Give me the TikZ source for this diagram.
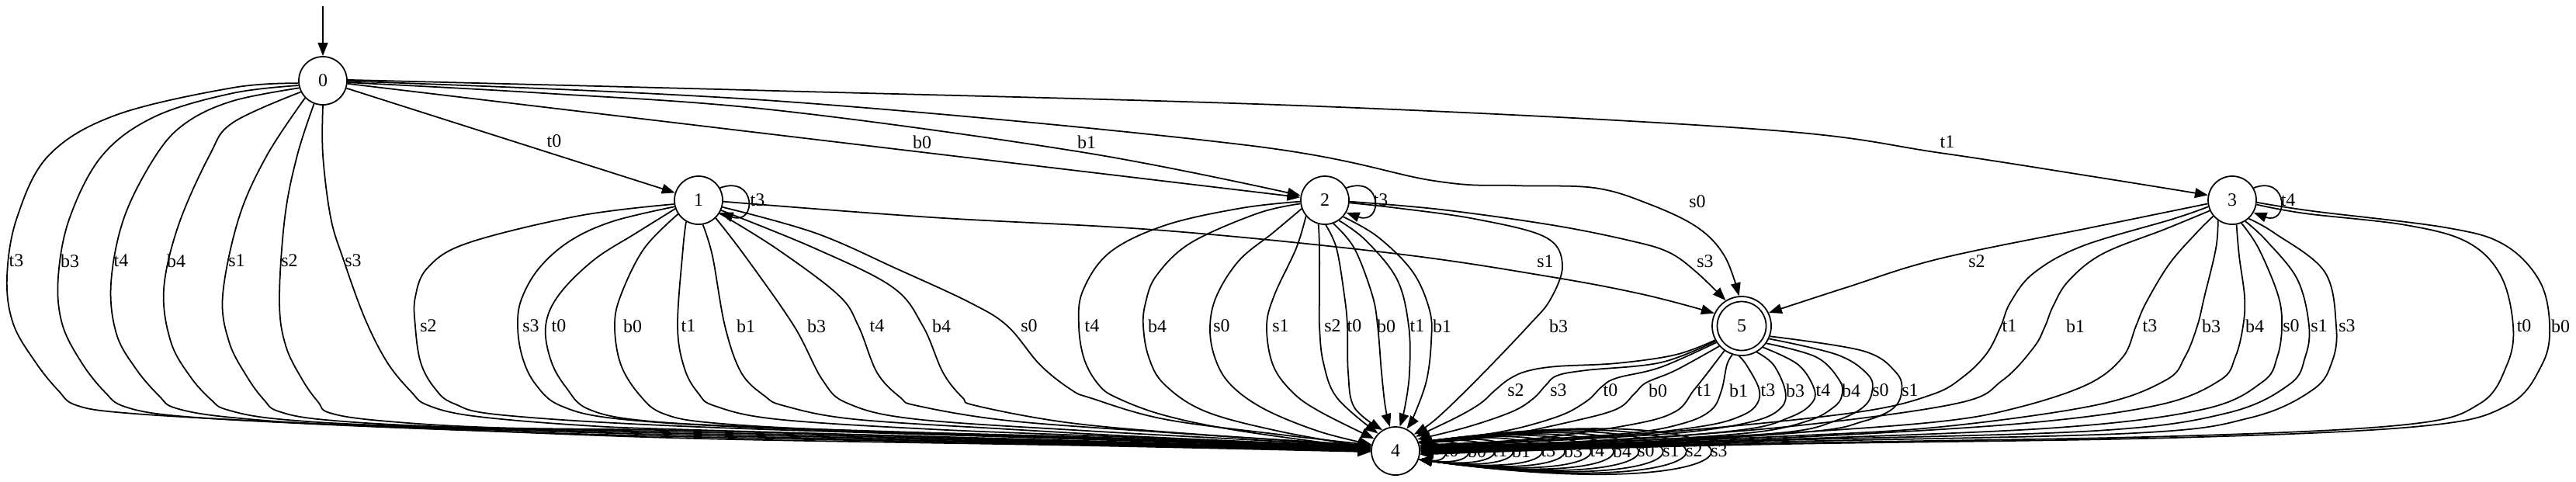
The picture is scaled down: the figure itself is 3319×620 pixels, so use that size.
\documentclass[tikz,border=0pt]{standalone}
\usepackage{fontspec}
\setmainfont{Liberation Serif}
\usetikzlibrary{arrows.meta}
\newcommand\lbf{\fontsize{6.8pt}{8pt}\selectfont}
\newcommand\lb[3]{\node[lbl] (#1) at (#2) {#3};}
\begin{document}
\begin{tikzpicture}[x=0.01cm,y=-0.01cm,
  st/.style={circle, draw, line width=0.5pt, minimum size=0.62cm, inner sep=0pt, font=\lbf},
  acc/.style={st, minimum size=0.76cm, path picture={\draw[line width=0.5pt] (path picture bounding box.center) circle[radius=0.315cm];}},
  e/.style={draw, line width=0.5pt, -{Triangle[length=4.8pt,width=3.6pt]}},
  lbl/.style={inner sep=0pt, font=\lbf},
  sm/.style={smooth, tension=0.6}]
\useasboundingbox (0,0) rectangle (3319,620);
% nodes
\node[st] (n0) at (416,104) {0};
\node[st] (n1) at (900,258) {1};
\node[st] (n2) at (1707,258) {2};
\node[st] (n3) at (2876,258) {3};
\node[acc] (n5) at (2244,420) {5};
\node[st] (n4) at (1798,581) {4};
\coordinate (i0) at (416,8);
\draw[e] (i0) -- (n0);
% ---- from 0
\draw[e] (n0) -- (n1); \lb{a1}{714,182}{t0}
\draw[e] (n0) -- (n2); \lb{a2}{1188,183}{b0}
\draw[e] plot[sm] coordinates {(n0.-4) (700,120) (1000,142) (1400,197) (n2.169)}; \lb{a3}{1400,183}{b1}
\draw[e] plot[sm] coordinates {(n0.-1) (1000,130) (1606,187) (1848,233) (1950,239) (2054,242) (2125,263) (2187,293) (2222,330) (n5.95)}; \lb{a4}{2187,260}{s0}
\draw[e] plot[sm] coordinates {(n0.2) (1000,117) (1700,137) (2272,167) (2500,197) (2700,228) (n3.168)}; \lb{a5}{2509,183}{t1}
\draw[e] plot[sm] coordinates {(n0.186) (300,113) (150,148) (63,200) (22,280) (9,357) (17,417) (46,467) (75,503) (98,522) (161,532) (344,543) (574,553) (900,565) (1400,574) (n4.182)}; \lb{a6}{21,336}{t3}
\draw[e] plot[sm] coordinates {(n0.191) (300,120) (200,150) (132,200) (90,280) (75,357) (80,417) (105,467) (135,505) (161,524) (230,536) (400,546) (620,555) (900,563) (1400,573) (n4.181)}; \lb{a7}{90,336}{b3}
\draw[e] plot[sm] coordinates {(n0.197) (300,130) (240,158) (201,200) (160,280) (143,365) (150,430) (175,475) (205,510) (227,526) (300,538) (460,548) (900,561) (1400,572) (n4.180)}; \lb{a8}{156,336}{t4}
\draw[e] plot[sm] coordinates {(n0.207) (300,158) (270,200) (230,290) (211,373) (220,440) (245,485) (272,515) (293,528) (360,540) (520,549) (900,559) (1400,571) (n4.179)}; \lb{a9}{227,336}{b4}
\draw[e] plot[sm] coordinates {(n0.224) (344,200) (308,280) (287,380) (295,440) (318,485) (340,515) (359,530) (420,541) (580,550) (900,557) (1400,570) (n4.178)}; \lb{a10}{305,336}{s1}
\draw[e] plot[sm] coordinates {(n0.249) (383,200) (367,280) (360,387) (368,445) (390,490) (410,518) (425,532) (490,542) (640,551) (900,555) (1400,569) (n4.177)}; \lb{a11}{373,336}{s2}
\draw[e] plot[sm] coordinates {(n0.270) (416,200) (426,280) (442,333) (470,410) (499,467) (530,505) (551,522) (610,536) (750,548) (900,554) (1400,568) (n4.176)}; \lb{a12}{455,336}{s3}
% ---- from 1
\draw[e] (n1.30) .. controls (975,225) and (975,291) .. (n1.-30); \lb{b1}{976,258}{t3}
\draw[e] plot[sm] coordinates {(n1.-3) (1200,280) (1500,297) (1800,327) (2000,357) (2120,380) (n5.155)}; \lb{b2}{1991,337}{s1}
\draw[e] plot[sm] coordinates {(n1.189) (746,278) (603,313) (551,345) (535,383) (535,420) (542,467) (560,500) (585,520) (650,535) (900,550) (1400,566) (n4.175)}; \lb{b3}{552,420}{s2}
\draw[e] plot[sm] coordinates {(n1.195) (790,285) (735,310) (695,345) (672,385) (667,420) (673,460) (690,495) (723,523) (800,540) (1000,552) (1400,565) (n4.174)}; \lb{b4}{684,420}{s3}
\draw[e] plot[sm] coordinates {(n1.200) (820,300) (765,335) (720,380) (703,420) (710,465) (730,500) (758,527) (830,542) (1000,551) (1400,564) (n4.173)}; \lb{b5}{720,420}{t0}
\draw[e] plot[sm] coordinates {(n1.214) (830,320) (800,380) (792,420) (800,470) (825,510) (855,533) (920,545) (1100,555) (1400,563) (n4.172)}; \lb{b6}{815,420}{b0}
\draw[e] plot[sm] coordinates {(n1.240) (880,320) (873,420) (882,475) (900,507) (921,523) (1000,540) (1200,553) (1450,563) (n4.171)}; \lb{b7}{887,420}{t1}
\draw[e] plot[sm] coordinates {(n1.-80) (918,330) (934,420) (955,480) (985,510) (1011,523) (1100,540) (1300,553) (1500,564) (n4.170)}; \lb{b8}{961,420}{b1}
\draw[e] plot[sm] coordinates {(n1.-46) (960,330) (1023,420) (1060,490) (1093,520) (1180,540) (1400,555) (1600,566) (n4.169)}; \lb{b9}{1052,420}{b3}
\draw[e] plot[sm] coordinates {(n1.-32) (1000,320) (1080,380) (1106,420) (1130,480) (1160,512) (1183,523) (1300,542) (1500,557) (n4.168)}; \lb{b10}{1130,420}{t4}
\draw[e] plot[sm] coordinates {(n1.-24) (1050,320) (1150,370) (1189,420) (1215,480) (1240,512) (1259,523) (1380,545) (1550,560) (n4.167)}; \lb{b11}{1213,420}{b4}
\draw[e] plot[sm] coordinates {(n1.-16) (1050,300) (1157,347) (1250,390) (1298,420) (1340,470) (1380,502) (1406,513) (1500,540) (1650,560) (n4.166)}; \lb{b12}{1326,420}{s0}
% ---- from 2
\draw[e] (n2.30) .. controls (1782,225) and (1782,291) .. (n2.-30); \lb{c1}{1779,258}{t3}
\draw[e] plot[sm] coordinates {(n2.-3) (1857,270) (2000,290) (2100,310) (2150,325) (2185,350) (n5.122)}; \lb{c2}{2197,337}{s3}
\draw[e] plot[sm] coordinates {(n2.-6) (1800,268) (1900,282) (1990,305) (2013,340) (1998,385) (1969,420) (1902,490) (1850,540) (n4.42)}; \lb{c3}{2008,420}{b3}
\draw[e] plot[sm] coordinates {(n2.183) (1600,268) (1502,290) (1430,325) (1395,375) (1390,420) (1397,463) (1415,495) (1438,512) (1500,535) (1597,555) (n4.175)}; \lb{c4}{1407,420}{t4}
\draw[e] plot[sm] coordinates {(n2.188) (1620,275) (1534,313) (1490,355) (1476,390) (1473,420) (1480,460) (1500,495) (1553,530) (1650,556) (n4.172)}; \lb{c5}{1491,420}{b4}
\draw[e] plot[sm] coordinates {(n2.200) (1640,300) (1597,335) (1568,380) (1559,420) (1565,460) (1585,495) (1629,527) (1700,556) (n4.165)}; \lb{c6}{1574,420}{s0}
\draw[e] plot[sm] coordinates {(n2.220) (1670,320) (1642,380) (1632,420) (1640,470) (1665,505) (1700,530) (n4.150)}; \lb{c7}{1650,420}{s1}
\draw[e] plot[sm] coordinates {(n2.-105) (1700,320) (1700,380) (1700,420) (1705,467) (1723,513) (n4.135)}; \lb{c8}{1717,420}{s2}
\draw[e] plot[sm] coordinates {(n2.-88) (1722,320) (1732,380) (1736,420) (1737,480) (1745,525) (n4.122)}; \lb{c9}{1745,420}{t0}
\draw[e] plot[sm] coordinates {(n2.-70) (1745,320) (1768,380) (1775,420) (1780,480) (1785,525) (n4.103)}; \lb{c10}{1786,420}{b0}
\draw[e] plot[sm] coordinates {(n2.-55) (1760,310) (1800,360) (1815,420) (1816,480) (1810,525) (n4.80)}; \lb{c11}{1826,420}{t1}
\draw[e] plot[sm] coordinates {(n2.-42) (1775,305) (1820,350) (1842,400) (1844,440) (1838,490) (1822,535) (n4.63)}; \lb{c12}{1858,420}{b1}
% ---- from 3
\draw[e] (n3.30) .. controls (2949,225) and (2949,291) .. (n3.-30); \lb{d1}{2948,258}{t4}
\draw[e] plot[sm] coordinates {(n3.188) (2700,292) (2500,333) (2380,370) (n5.26)}; \lb{d2}{2547,337}{s2}
\draw[e] plot[sm] coordinates {(n3.195) (2800,282) (2683,317) (2620,352) (2590,390) (2578,420) (2560,455) (2530,485) (2490,508) (2400,530) (2200,552) (2000,567) (n4.10)}; \lb{d3}{2589,420}{t1}
\draw[e] plot[sm] coordinates {(n3.205) (2790,295) (2709,327) (2665,362) (2645,395) (2635,420) (2620,448) (2580,490) (2520,520) (2300,550) (2050,568) (n4.8)}; \lb{d4}{2674,420}{b1}
\draw[e] plot[sm] coordinates {(n3.220) (2830,300) (2795,340) (2765,390) (2752,420) (2735,460) (2690,495) (2600,525) (2500,543) (2300,558) (2050,570) (n4.6)}; \lb{d5}{2770,420}{t3}
\draw[e] plot[sm] coordinates {(n3.235) (2855,320) (2840,383) (2831,420) (2815,460) (2790,490) (2700,522) (2500,550) (2300,562) (2050,572) (n4.4)}; \lb{d6}{2849,420}{b3}
\draw[e] plot[sm] coordinates {(n3.-80) (2885,330) (2892,383) (2890,420) (2880,460) (2860,490) (2780,522) (2600,546) (2300,564) (2050,573) (n4.2)}; \lb{d7}{2905,420}{b4}
\draw[e] plot[sm] coordinates {(n3.-68) (2910,320) (2935,380) (2940,420) (2934,460) (2915,492) (2840,527) (2650,551) (2300,566) (2050,574) (n4.0)}; \lb{d8}{2952,420}{s0}
\draw[e] plot[sm] coordinates {(n3.-58) (2920,310) (2960,360) (2975,420) (2970,460) (2950,495) (2870,532) (2700,555) (2300,567) (2050,575) (n4.-2)}; \lb{d9}{2988,420}{s1}
\draw[e] plot[sm] coordinates {(n3.-48) (2930,300) (2995,350) (3010,420) (3005,465) (2980,502) (2900,538) (2750,558) (2300,569) (2050,576) (n4.-4)}; \lb{d10}{3024,420}{s3}
\draw[e] plot[sm] coordinates {(n3.-10) (2970,275) (3100,290) (3179,312) (3222,355) (3238,420) (3230,470) (3195,520) (3100,547) (2800,562) (2300,571) (2050,577) (n4.-6)}; \lb{d11}{3252,420}{t0}
\draw[e] plot[sm] coordinates {(n3.-5) (2980,272) (3150,293) (3226,315) (3272,362) (3285,420) (3275,470) (3231,522) (3120,549) (2800,564) (2300,572) (2050,578) (n4.-8)}; \lb{d12}{3299,420}{b0}
% ---- from 5
\draw[e] plot[sm] coordinates {(n5.208) (2159,457) (2083,468) (2006,472) (1968,478) (1945,488) (1926,503) (1907,520) (1876,538) (n4.35)}; \lb{f1}{1953,503}{s2}
\draw[e] plot[sm] coordinates {(n5.210) (2140,467) (2044,477) (2006,484) (1991,497) (1976,513) (1949,530) (1891,550) (n4.28)}; \lb{f2}{2008,503}{s3}
\draw[e] plot[sm] coordinates {(n5.213) (2140,473) (2083,487) (2064,498) (2044,517) (2006,537) (1930,557) (n4.22)}; \lb{f3}{2075,503}{t0}
\draw[e] plot[sm] coordinates {(n5.222) (2159,477) (2121,493) (2106,507) (2083,527) (2025,543) (1930,562) (n4.18)}; \lb{f4}{2136,503}{b0}
\draw[e] plot[sm] coordinates {(n5.235) (2198,483) (2182,503) (2159,530) (2102,547) (1968,566) (n4.14)}; \lb{f5}{2196,503}{t1}
\draw[e] plot[sm] coordinates {(n5.252) (2225,470) (2218,503) (2205,528) (2170,545) (2100,558) (1950,568) (n4.11)}; \lb{f6}{2240,503}{b1}
\draw[e] plot[sm] coordinates {(n5.-95) (2250,470) (2266,500) (2264,520) (2245,535) (2200,548) (2100,560) (1950,570) (n4.9)}; \lb{f7}{2278,503}{t3}
\draw[e] plot[sm] coordinates {(n5.-60) (2285,470) (2300,503) (2295,525) (2262,542) (2180,556) (2050,565) (1900,572) (n4.7)}; \lb{f8}{2313,503}{b3}
\draw[e] plot[sm] coordinates {(n5.-45) (2317,470) (2338,503) (2332,522) (2305,538) (2250,553) (2100,566) (1900,574) (n4.5)}; \lb{f9}{2349,503}{t4}
\draw[e] plot[sm] coordinates {(n5.-35) (2340,460) (2370,490) (2373,510) (2362,525) (2330,542) (2260,557) (2100,568) (1900,575) (n4.3)}; \lb{f10}{2385,503}{b4}
\draw[e] plot[sm] coordinates {(n5.-25) (2367,457) (2407,483) (2412,505) (2400,525) (2365,542) (2300,557) (2100,570) (1900,576) (n4.1)}; \lb{f11}{2423,503}{s0}
\draw[e] plot[sm] coordinates {(n5.-20) (2400,452) (2443,480) (2450,505) (2438,527) (2400,543) (2333,556) (2100,571) (1900,577) (n4.-1)}; \lb{f12}{2461,503}{s1}
% ---- self loops on 4
\draw[e] (n4.20) .. controls (1871,566) and (1871,596) .. (n4.-20); \lb{g1}{1870,581}{t0}
\draw[e] (n4.20) .. controls (1911,560) and (1911,602) .. (n4.-20); \lb{g2}{1903,581}{b0}
\draw[e] (n4.20) .. controls (1955,554) and (1955,608) .. (n4.-20); \lb{g3}{1933,581}{t1}
\draw[e] (n4.20) .. controls (1987,548) and (1987,614) .. (n4.-20); \lb{g4}{1960,581}{b1}
\draw[e] (n4.20) .. controls (2037,542) and (2037,620) .. (n4.-20); \lb{g5}{1995,581}{t3}
\draw[e] (n4.20) .. controls (2076,536) and (2076,626) .. (n4.-20); \lb{g6}{2027,581}{b3}
\draw[e] (n4.20) .. controls (2121,530) and (2121,632) .. (n4.-20); \lb{g7}{2058,581}{t4}
\draw[e] (n4.20) .. controls (2160,524) and (2160,638) .. (n4.-20); \lb{g8}{2090,581}{b4}
\draw[e] (n4.20) .. controls (2203,518) and (2203,644) .. (n4.-20); \lb{g9}{2121,581}{s0}
\draw[e] (n4.20) .. controls (2245,512) and (2245,650) .. (n4.-20); \lb{g10}{2153,581}{s1}
\draw[e] (n4.20) .. controls (2285,506) and (2285,656) .. (n4.-20); \lb{g11}{2183,581}{s2}
\draw[e] (n4.20) .. controls (2328,500) and (2328,662) .. (n4.-20); \lb{g12}{2215,581}{s3}
\end{tikzpicture}
\end{document}
